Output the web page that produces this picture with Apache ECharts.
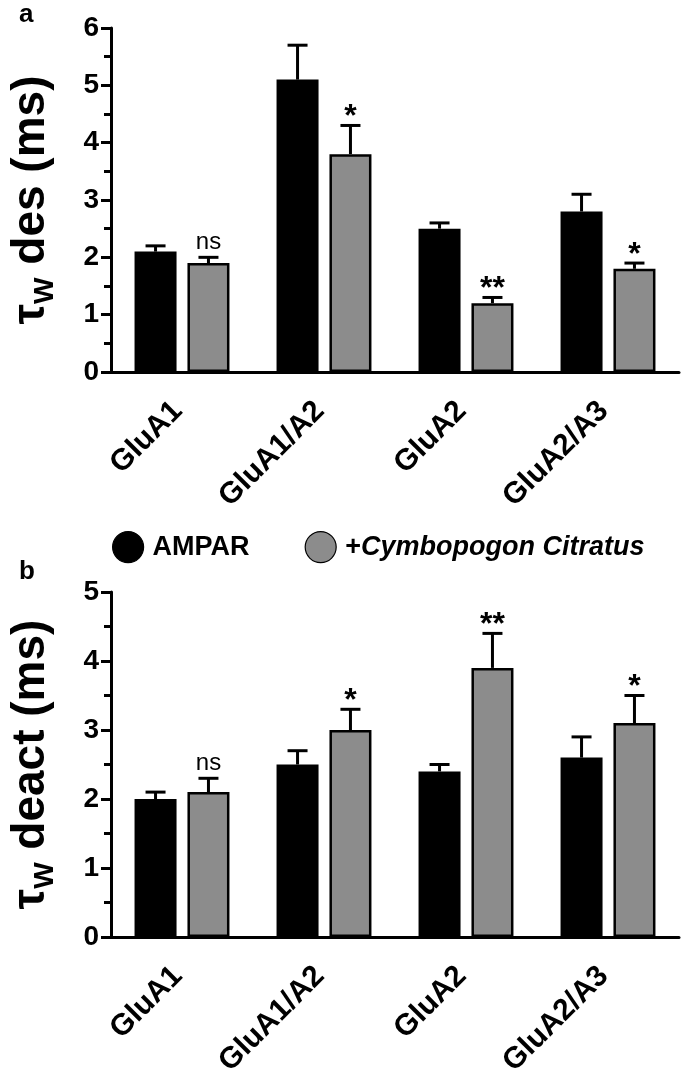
<!DOCTYPE html>
<html>
<head>
<meta charset="utf-8">
<script src="https://cdn.jsdelivr.net/npm/echarts@6/dist/echarts.min.js"></script>
<style>
  html, body { margin: 0; padding: 0; background: #fff; }
  #chart { width: 685px; height: 1080px; }
</style>
</head>
<body>
<div id="chart"></div>
<script>
// 数据
const categories = ['GluA1', 'GluA1/A2', 'GluA2', 'GluA2/A3'];
const seriesNames = ['AMPAR', '+Cymbopogon Citratus'];

// a: 脱敏时间常数
const desAmpar = [2.1, 5.1, 2.5, 2.8];
const desAmparErr = [0.1, 0.6, 0.1, 0.3];
const desCymbo = [1.9, 3.8, 1.2, 1.8];
const desCymboErr = [0.1, 0.5, 0.1, 0.1];
const desSig = ['ns', '*', '**', '*'];

// b: 失活时间常数
const deactAmpar = [2.0, 2.5, 2.4, 2.6];
const deactAmparErr = [0.1, 0.2, 0.1, 0.3];
const deactCymbo = [2.1, 3.0, 3.9, 3.1];
const deactCymboErr = [0.2, 0.3, 0.5, 0.4];
const deactSig = ['ns', '*', '**', '*'];

const yRangeA = [0, 6];
const yRangeB = [0, 5];
const yStep = 1;

const FONT = '"Liberation Sans", Arial, sans-serif';
const GRAY = '#8c8c8c';
const BAR_W = 42;
const BAR_GAP = 0.26;
const SHIFT = (BAR_W + BAR_W * BAR_GAP) / 2;

const chart = echarts.init(document.getElementById('chart'));

function xAxisFor(gridIndex) {
  return {
    type: 'category',
    gridIndex,
    data: categories,
    axisLine: { lineStyle: { color: '#000', width: 3 } },
    axisTick: { alignWithLabel: true, length: 10, lineStyle: { color: '#000', width: 3 } },
    axisLabel: {
      interval: 0, rotate: 45, margin: 30, padding: [0, 6, 0, 0],
      fontSize: 30, fontWeight: 'bold', color: '#000', fontFamily: FONT,
    },
  };
}

function yAxisFor(gridIndex, range, word) {
  return {
    type: 'value',
    gridIndex,
    min: range[0],
    max: range[1],
    interval: yStep,
    name: '{t|τ}{s|W}{t| ' + word + ' (ms)}',
    nameLocation: 'middle',
    nameRotate: 90,
    nameGap: 52,
    nameTextStyle: {
      color: '#000',
      fontFamily: FONT,
      rich: {
        t: { fontSize: 46, fontWeight: 'bold', fontFamily: FONT, color: '#000', lineHeight: 56 },
        s: { fontSize: 28, fontWeight: 'bold', fontFamily: FONT, color: '#000', lineHeight: 30, verticalAlign: 'bottom' },
      },
    },
    axisLine: { show: true, lineStyle: { color: '#000', width: 3 } },
    axisTick: { show: true, length: 10, lineStyle: { color: '#000', width: 3 } },
    minorTick: { show: true, splitNumber: 2, length: 7, lineStyle: { color: '#000', width: 3 } },
    splitLine: { show: false },
    axisLabel: {
      margin: 12, fontSize: 28, fontWeight: 'bold', color: '#000', fontFamily: FONT,
    },
  };
}

function barSeries(gridIndex, name, values, color) {
  return {
    type: 'bar',
    name,
    xAxisIndex: gridIndex,
    yAxisIndex: gridIndex,
    data: values,
    barWidth: BAR_W,
    barGap: (BAR_GAP * 100) + '%',
    itemStyle: { color, borderColor: '#000', borderWidth: 2.5 },
    z: 2,
  };
}

// 误差线 + 显著性标记
function errorSeries(gridIndex, means, errs, shift, sig) {
  return {
    type: 'custom',
    xAxisIndex: gridIndex,
    yAxisIndex: gridIndex,
    silent: true,
    z: 3,
    data: means.map((m, i) => [i, m, m + errs[i]]),
    renderItem: (params, api) => {
      const base = api.coord([api.value(0), api.value(1)]);
      const top = api.coord([api.value(0), api.value(2)]);
      const x = base[0] + shift;
      const children = [
        { type: 'line', shape: { x1: x, y1: base[1], x2: x, y2: top[1] },
          style: { stroke: '#000', lineWidth: 3 } },
        { type: 'line', shape: { x1: x - 10, y1: top[1], x2: x + 10, y2: top[1] },
          style: { stroke: '#000', lineWidth: 3 } },
      ];
      if (sig) {
        const s = sig[params.dataIndex];
        const isNs = s === 'ns';
        children.push({
          type: 'text',
          x: x,
          y: isNs ? top[1] - 3 : top[1] + 8,
          style: {
            text: s,
            align: 'center',
            verticalAlign: 'bottom',
            fontFamily: FONT,
            fontSize: isNs ? 24 : 32,
            fontWeight: isNs ? 'normal' : 'bold',
            fill: '#000',
          },
        });
      }
      return { type: 'group', children };
    },
  };
}

const option = {
  animation: false,
  backgroundColor: '#fff',
  title: [
    { text: 'a', left: 19, top: 2, padding: 0,
      textStyle: { fontSize: 26, fontWeight: 'bold', color: '#000', fontFamily: FONT } },
    { text: 'b', left: 19, top: 559, padding: 0,
      textStyle: { fontSize: 26, fontWeight: 'bold', color: '#000', fontFamily: FONT } },
  ],
  legend: {
    data: seriesNames,
    left: 112,
    top: 531,
    padding: 0,
    icon: 'circle',
    itemWidth: 31,
    itemHeight: 31,
    itemGap: 55,
    itemStyle: { borderWidth: 1.2 },
    formatter: (name) => name === seriesNames[1]
      ? '{b|+}{bi|Cymbopogon Citratus}'
      : '{b|' + name + '}',
    textStyle: {
      color: '#000',
      fontFamily: FONT,
      rich: {
        b: { fontSize: 27, fontWeight: 'bold', fontFamily: FONT, color: '#000', padding: [0, 0, 0, 4] },
        bi: { fontSize: 27, fontWeight: 'bold', fontStyle: 'italic', fontFamily: FONT, color: '#000' },
      },
    },
  },
  grid: [
    { left: 106, top: 28, width: 573, height: 344 },
    { left: 106, top: 592, width: 573, height: 345 },
  ],
  xAxis: [xAxisFor(0), xAxisFor(1)],
  yAxis: [yAxisFor(0, yRangeA, 'des'), yAxisFor(1, yRangeB, 'deact')],
  series: [
    barSeries(0, seriesNames[0], desAmpar, '#000'),
    barSeries(0, seriesNames[1], desCymbo, GRAY),
    errorSeries(0, desAmpar, desAmparErr, -SHIFT, null),
    errorSeries(0, desCymbo, desCymboErr, SHIFT, desSig),
    barSeries(1, seriesNames[0], deactAmpar, '#000'),
    barSeries(1, seriesNames[1], deactCymbo, GRAY),
    errorSeries(1, deactAmpar, deactAmparErr, -SHIFT, null),
    errorSeries(1, deactCymbo, deactCymboErr, SHIFT, deactSig),
  ],
};

chart.setOption(option);
window.addEventListener('resize', () => chart.resize());
</script>
</body>
</html>
